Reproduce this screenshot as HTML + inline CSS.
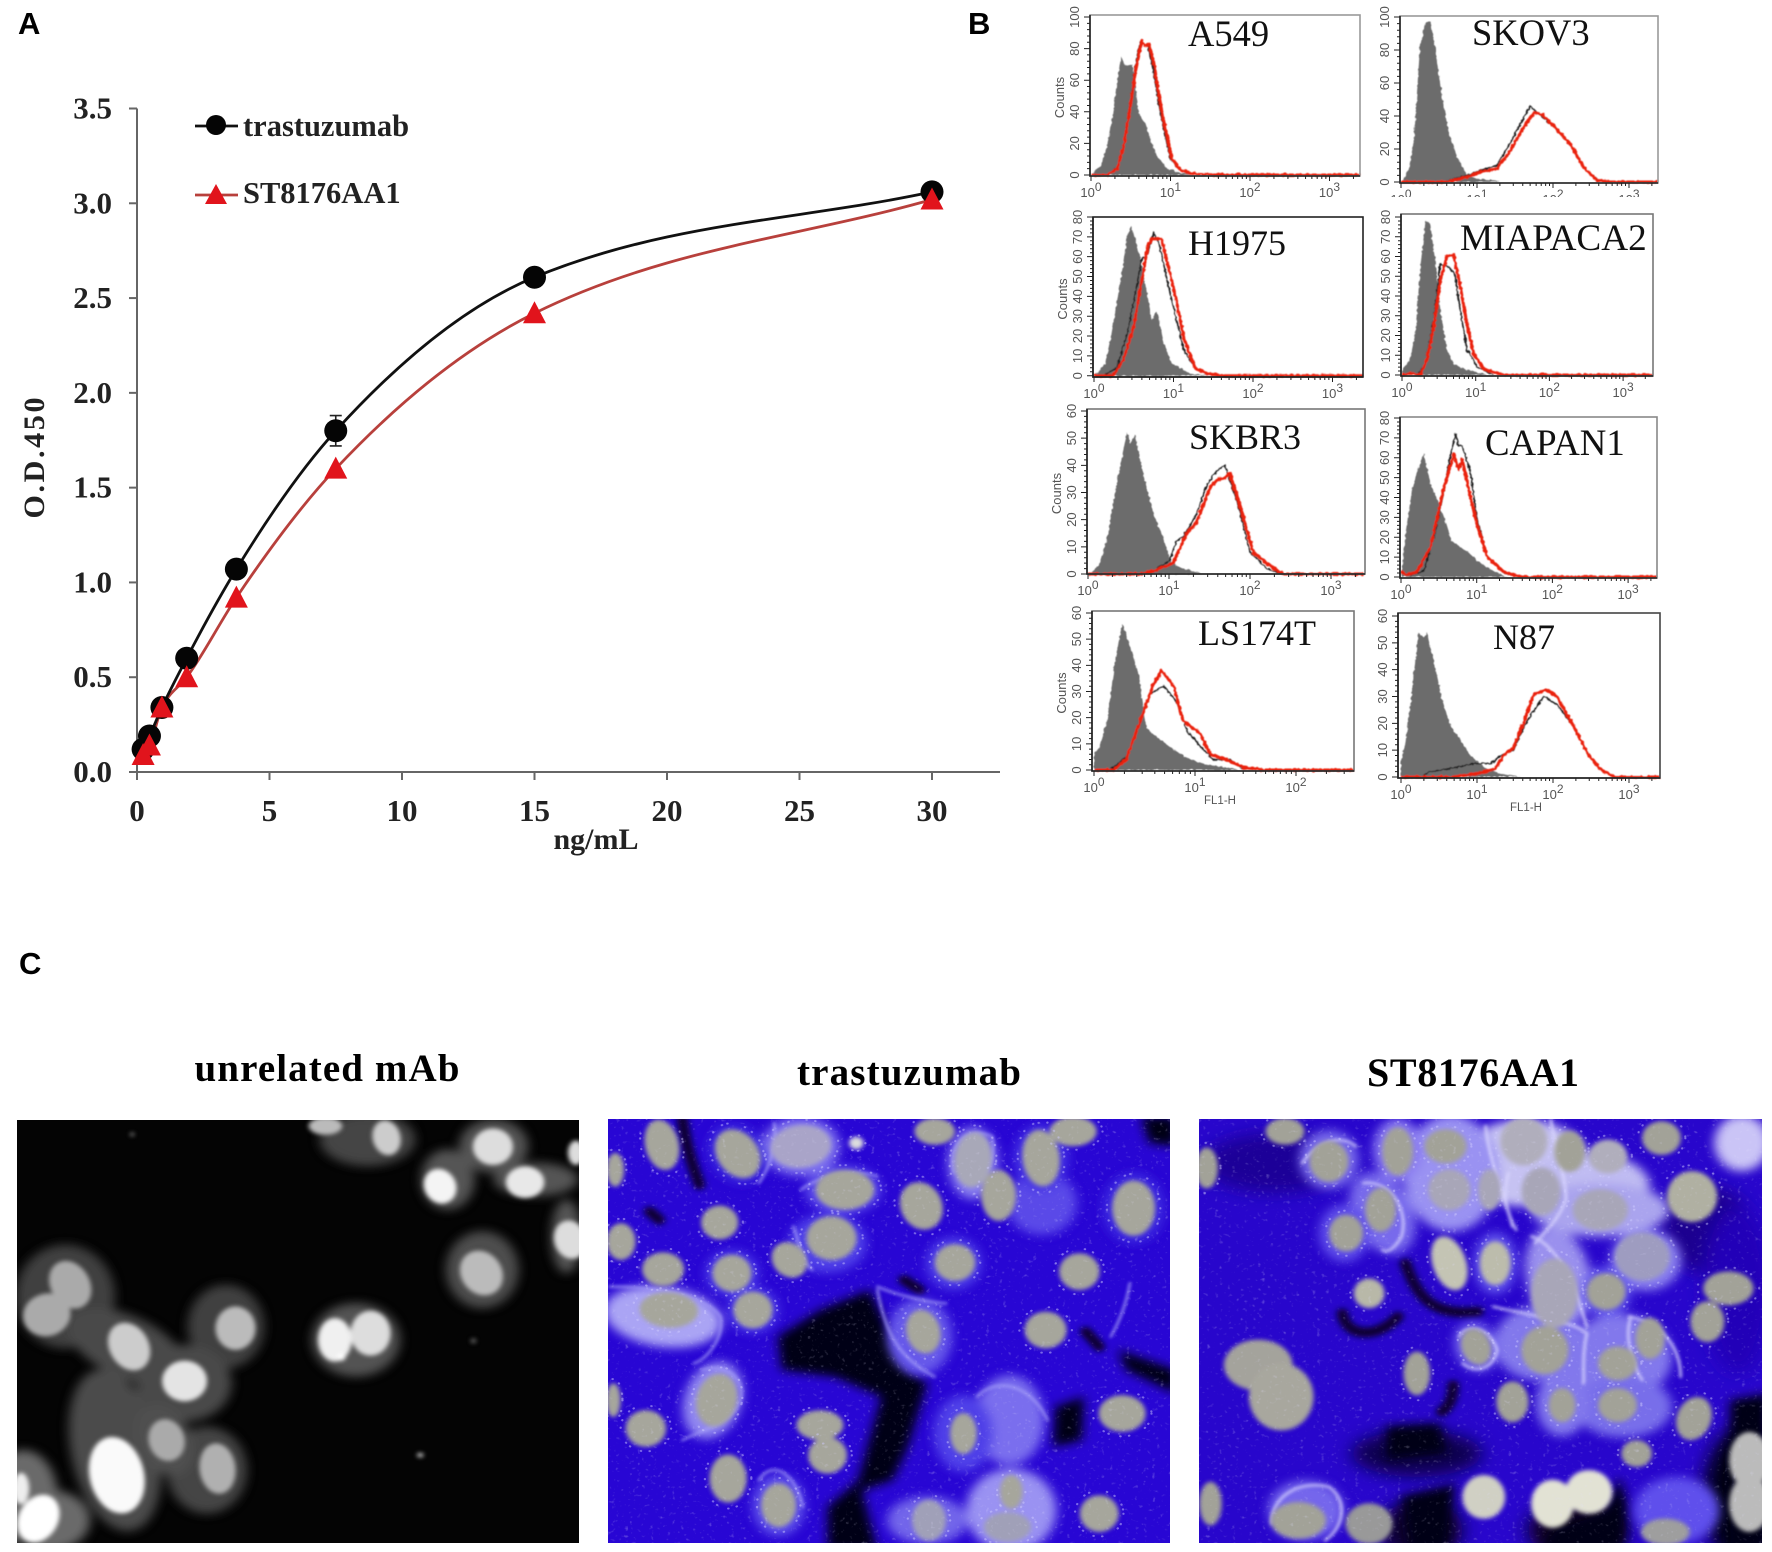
<!DOCTYPE html>
<html lang="en">
<head>
<meta charset="utf-8">
<title>ELISA, flow cytometry and immunofluorescence figure</title>
<style>
html,body{margin:0;padding:0;background:#fff}
svg{display:block}
.serif{font-family:"Liberation Serif",serif}
.sans{font-family:"Liberation Sans",sans-serif}
</style>
</head>
<body>
<svg id="fig" xmlns="http://www.w3.org/2000/svg" width="1772" height="1552" viewBox="0 0 1772 1552">
  <defs>
    <filter id="jag" x="-5%" y="-10%" width="110%" height="120%">
      <feTurbulence type="fractalNoise" baseFrequency="0.32" numOctaves="1" seed="4" result="n"/>
      <feDisplacementMap in="SourceGraphic" in2="n" scale="3.5" xChannelSelector="R" yChannelSelector="G"/>
      <feGaussianBlur stdDeviation="0.55"/>
    </filter>
    <filter id="blurS" x="-30%" y="-30%" width="160%" height="160%"><feGaussianBlur stdDeviation="4.5"/></filter>
    <filter id="blurT" x="-30%" y="-30%" width="160%" height="160%"><feGaussianBlur stdDeviation="9"/></filter>
    <filter id="blurN" x="-30%" y="-30%" width="160%" height="160%"><feGaussianBlur stdDeviation="6.5"/></filter>
    <filter id="blurM" x="-30%" y="-30%" width="160%" height="160%"><feGaussianBlur stdDeviation="14"/></filter>
    <filter id="blurB" x="-30%" y="-30%" width="160%" height="160%"><feGaussianBlur stdDeviation="24"/></filter>
    <filter id="speck" x="0" y="0" width="100%" height="100%">
      <feTurbulence type="fractalNoise" baseFrequency="0.09" numOctaves="2" seed="7"/>
      <feColorMatrix type="matrix" values="0 0 0 0 0.78  0 0 0 0 0.76  0 0 0 0 1  1.6 1.6 0 0 -1.86"/>
    </filter>
  </defs>
  <rect width="1772" height="1552" fill="#fff"/>

  <text x="18" y="34" class="sans" font-size="31" font-weight="700">A</text>
  <text x="968" y="34" class="sans" font-size="31" font-weight="700">B</text>
  <text x="19" y="974" class="sans" font-size="31" font-weight="700">C</text>

  <g id="chartA"></g>
  <g id="flow"></g>

  <text x="327" y="1081" class="serif" font-size="39" font-weight="700" text-anchor="middle" textLength="265">unrelated mAb</text>
  <text x="909" y="1085" class="serif" font-size="39" font-weight="700" text-anchor="middle" textLength="224">trastuzumab</text>
  <text x="1473" y="1086" class="serif" font-size="40" font-weight="700" text-anchor="middle" textLength="212">ST8176AA1</text>

  <svg id="photo1" x="17" y="1120" width="562" height="423" viewBox="44 272 1469 1266" preserveAspectRatio="none"></svg>
  <svg id="photo2" x="608" y="1119" width="562" height="424" viewBox="46 268 1469 1270" preserveAspectRatio="none"></svg>
  <svg id="photo3" x="1199" y="1119" width="563" height="424" viewBox="70 268 1473 1270" preserveAspectRatio="none"></svg>
</svg>

<script>
/* ---------- Chart A data ---------- */
const doses = [0.23, 0.47, 0.94, 1.875, 3.75, 7.5, 15, 30];
const trastuzumabOD = [0.12, 0.19, 0.34, 0.60, 1.07, 1.80, 2.61, 3.06];
const st8176OD = [0.09, 0.14, 0.34, 0.50, 0.92, 1.60, 2.42, 3.02];
const trastuzumabErr = [0.01, 0.01, 0.02, 0.02, 0.03, 0.08, 0.03, 0.03];
const xTickValues = [0, 5, 10, 15, 20, 25, 30];
const yTickValues = [0, 0.5, 1, 1.5, 2, 2.5, 3, 3.5];

/* ---------- Flow data: [log10 FL1, counts] ---------- */
const a549Grey = [[0,0],[0.12,6],[0.2,18],[0.27,37],[0.33,60],[0.38,75],[0.43,69],[0.52,70],[0.56,56],[0.6,39],[0.69,32],[0.75,22],[0.83,12],[0.96,4],[1.12,1],[1.55,0]];
const a549Black = [[0.2,0],[0.33,5],[0.41,20],[0.5,48],[0.56,70],[0.62,84],[0.71,82],[0.77,70],[0.83,52],[0.9,33],[1,10],[1.12,3],[1.25,1],[1.55,0]];
const a549Red = [[0,0],[0.2,0],[0.33,4],[0.41,18],[0.5,45],[0.56,66],[0.64,85],[0.68,82],[0.73,83],[0.79,71],[0.85,52],[0.92,33],[1.02,10],[1.13,3],[1.25,1],[1.55,0],[3.4,0]];
const h1975Grey = [[0.01,0],[0.14,6],[0.22,21],[0.33,47],[0.42,71],[0.47,76],[0.52,68],[0.58,60],[0.66,43],[0.73,28],[0.79,33],[0.87,18],[0.98,6],[1.08,4],[1.21,1],[1.5,0]];
const h1975Black = [[0.12,0],[0.29,4],[0.43,23],[0.54,46],[0.6,59],[0.66,60],[0.75,72],[0.83,65],[0.92,48],[1.04,28],[1.13,13],[1.27,4],[1.5,0]];
const h1975Red = [[0,0],[0.24,0],[0.37,8],[0.5,25],[0.58,43],[0.68,66],[0.73,69],[0.85,69],[0.94,54],[1.02,41],[1.13,19],[1.27,4],[1.42,1],[1.63,0],[3.4,0]];
const skov3Grey = [[0.01,0],[0.1,7],[0.17,25],[0.25,82],[0.32,97],[0.39,97],[0.45,80],[0.54,52],[0.63,29],[0.74,15],[0.87,4],[1,2],[1.24,1],[1.3,0]];
const skov3Black = [[0.55,0],[0.87,4],[1.04,7],[1.26,10],[1.42,22],[1.58,36],[1.7,46],[1.84,40],[2,34],[2.22,23],[2.4,9],[2.6,1],[2.8,0]];
const skov3Red = [[0,0],[0.6,0],[0.87,3],[1.04,6],[1.26,8],[1.44,19],[1.61,33],[1.75,42],[1.86,41],[2.01,34],[2.23,23],[2.4,9],[2.58,1],[2.75,0],[3.4,0]];
const miapacaGrey = [[0,2],[0.11,8],[0.18,21],[0.25,55],[0.32,78],[0.38,77],[0.45,58],[0.52,33],[0.61,13],[0.7,6],[0.84,3],[1.06,1],[1.15,0]];
const miapacaBlack = [[0.23,1],[0.32,6],[0.43,28],[0.52,56],[0.63,55],[0.72,51],[0.79,33],[0.88,13],[1.02,4],[1.24,0]];
const miapacaRed = [[0,0],[0.05,0],[0.11,1],[0.25,0],[0.34,8],[0.43,24],[0.52,48],[0.61,60],[0.7,61],[0.79,45],[0.88,26],[0.97,11],[1.11,3],[1.38,0],[3.4,0]];
const skbr3Grey = [[0.02,0],[0.15,4],[0.25,15],[0.35,33],[0.48,52],[0.52,48],[0.58,51],[0.68,37],[0.81,22],[0.93,13],[1.03,4],[1.18,2],[1.42,0]];
const skbr3Black = [[0.85,2],[1.01,5],[1.09,12],[1.18,14],[1.34,22],[1.47,33],[1.59,38],[1.69,40],[1.84,27],[2,8],[2.21,2],[2.4,0]];
const skbr3Red = [[0,0],[0.64,0],[0.81,1],[1.05,4],[1.22,15],[1.34,19],[1.51,32],[1.61,35],[1.67,35],[1.75,37],[1.88,25],[2.04,8],[2.25,3],[2.41,0],[3.4,0]];
const ls174tGrey = [[0,6],[0.06,9],[0.13,19],[0.21,42],[0.28,56],[0.34,49],[0.44,37],[0.52,16],[0.61,13],[0.75,9],[0.92,4.5],[1.12,2],[1.31,1],[1.45,0]];
const ls174tBlack = [[0.16,0],[0.32,5],[0.46,18],[0.55,29],[0.69,32],[0.82,26],[0.92,15],[1.08,8],[1.18,4],[1.35,4],[1.45,1],[1.6,0]];
const ls174tRed = [[0,0],[0.19,0],[0.32,4],[0.46,19],[0.59,33],[0.67,38],[0.79,32],[0.88,19],[1.05,14],[1.15,6],[1.31,4],[1.48,1],[1.68,0],[2.6,0]];
const capan1Grey = [[0.01,2],[0.06,22],[0.15,45],[0.23,55],[0.3,62],[0.39,47],[0.52,35],[0.59,28],[0.67,18],[0.87,13],[1.05,7],[1.27,2],[1.4,0]];
const capan1Black = [[0.12,1],[0.3,3],[0.45,22],[0.56,42],[0.65,61],[0.72,72],[0.76,66],[0.81,66],[0.92,52],[1,30],[1.14,10],[1.36,2],[1.55,0]];
const capan1Red = [[0,3],[0.06,1],[0.21,2.5],[0.39,15],[0.56,44],[0.7,62],[0.76,54],[0.81,59],[0.89,45],[1,27],[1.14,10],[1.36,2.5],[1.58,0],[3.4,0]];
const n87Grey = [[0,6],[0.06,13],[0.14,31],[0.23,54],[0.3,52],[0.34,54],[0.45,41],[0.54,29],[0.65,19],[0.78,14],[0.91,8],[1.13,3],[1.35,1],[1.57,0]];
const n87Black = [[0.25,0],[0.39,2],[0.61,3],[0.96,5],[1.18,5],[1.31,8],[1.48,10],[1.66,21],[1.88,30],[2.05,27],[2.27,19],[2.45,9.5],[2.62,3],[2.8,0]];
const n87Red = [[0,0],[0.69,0],[1.04,1.5],[1.24,3],[1.35,8],[1.48,11],[1.61,20],[1.75,31],[1.92,32.5],[2.05,30],[2.27,19],[2.45,9],[2.62,3],[2.8,0],[3.4,0]];

const NS = 'http://www.w3.org/2000/svg';
function mk(parent, tag, attrs, txt) {
  const e = document.createElementNS(NS, tag);
  for (const k in attrs) e.setAttribute(k, attrs[k]);
  if (txt !== undefined) e.textContent = txt;
  parent.appendChild(e);
  return e;
}

/* ---------- Chart A ---------- */
(function () {
  const g = document.getElementById('chartA');
  const X = v => 137 + v * (932 - 137) / 30;
  const Y = v => 772 - v * (772 - 108.5) / 3.5;
  const serif = '"Liberation Serif",serif';

  const yAxis = mk(g, 'line', {x1: X(0), x2: X(0), y1: Y(3.5), y2: Y(0), stroke: '#666', 'stroke-width': 2});
  
  
  const xAxis = mk(g, 'line', {x1: X(0), x2: 1000, y1: Y(0), y2: Y(0), stroke: '#666', 'stroke-width': 2});
  
  

  yTickValues.forEach(v => {
    const t = mk(g, 'line', {x1: X(0) - 8, x2: X(0), y1: Y(v), y2: Y(v), stroke: '#666', 'stroke-width': 2});
    
    
    const l = mk(g, 'text', {x: 112, y: Y(v) + 10, 'text-anchor': 'end', 'font-family': serif, 'font-size': 31, 'font-weight': 700, fill: '#222'}, v.toFixed(1));
    
    
  });
  xTickValues.forEach(v => {
    const t = mk(g, 'line', {x1: X(v), x2: X(v), y1: Y(0), y2: Y(0) + 8, stroke: '#666', 'stroke-width': 2});
    
    
    const l = mk(g, 'text', {x: X(v), y: 821, 'text-anchor': 'middle', 'font-family': serif, 'font-size': 31, 'font-weight': 700, fill: '#222'}, String(v));
    
    
  });
  const xTitle = mk(g, 'text', {x: 596, y: 849, 'text-anchor': 'middle', 'font-family': serif, 'font-size': 30, 'font-weight': 700, fill: '#222'}, 'ng/mL');
  
  
  const yTitle = mk(g, 'text', {x: 44, y: 458, 'text-anchor': 'middle', 'font-family': serif, 'font-size': 30, 'font-weight': 700, fill: '#222', textLength: 121, transform: 'rotate(-90 44 458)'}, 'O.D.450');
  
  

  function smoothPath(xs, ys) {
    const px = xs.map(X), py = ys.map(Y), n = px.length;
    const d = [], m = [];
    for (let i = 0; i < n - 1; i++) d.push((py[i + 1] - py[i]) / (px[i + 1] - px[i]));
    m[0] = d[0]; m[n - 1] = d[n - 2];
    for (let i = 1; i < n - 1; i++) {
      const a = px[i] - px[i - 1], b = px[i + 1] - px[i];
      m[i] = d[i - 1] * d[i] <= 0 ? 0 : (a + b) * d[i - 1] * d[i] / (a * d[i - 1] + b * d[i]);
    }
    let s = 'M' + px[0] + ' ' + py[0];
    for (let i = 0; i < n - 1; i++) {
      const h = (px[i + 1] - px[i]) / 3;
      s += ' C' + (px[i] + h) + ' ' + (py[i] + m[i] * h) + ' ' + (px[i + 1] - h) + ' ' + (py[i + 1] - m[i + 1] * h) + ' ' + px[i + 1] + ' ' + py[i + 1];
    }
    return s;
  }

  const lineR = mk(g, 'path', {d: smoothPath(doses, st8176OD), fill: 'none', stroke: '#b8403c', 'stroke-width': 2.8});
  
  
  const lineB = mk(g, 'path', {d: smoothPath(doses, trastuzumabOD), fill: 'none', stroke: '#111', 'stroke-width': 2.8});
  
  

  doses.forEach((x, i) => {
    const v = trastuzumabOD[i], er = trastuzumabErr[i];
    const eb = mk(g, 'path', {d: 'M' + (X(x) - 6) + ' ' + Y(v + er) + 'h12M' + X(x) + ' ' + Y(v + er) + 'V' + Y(v - er) + 'M' + (X(x) - 6) + ' ' + Y(v - er) + 'h12', stroke: '#222', 'stroke-width': 1.6, fill: 'none'});
    
    
    const c = mk(g, 'circle', {cx: X(x), cy: Y(v), r: 11.5, fill: '#050505'});
    
    
  });
  doses.forEach((x, i) => {
    const px = X(x), py = Y(st8176OD[i]);
    const t = mk(g, 'polygon', {points: (px - 11.5) + ',' + (py + 10) + ' ' + (px + 11.5) + ',' + (py + 10) + ' ' + px + ',' + (py - 12), fill: '#e1141c'});
    
    
  });

  const leg1 = mk(g, 'line', {x1: 195, x2: 238, y1: 126, y2: 126, stroke: '#111', 'stroke-width': 2.8});
  
  
  const legC = mk(g, 'circle', {cx: 216, cy: 125, r: 10, fill: '#050505'});
  
  
  const legT1 = mk(g, 'text', {x: 243, y: 136, 'font-family': serif, 'font-size': 30.5, 'font-weight': 700, fill: '#222'}, 'trastuzumab');
  
  
  const leg2 = mk(g, 'line', {x1: 195, x2: 238, y1: 195, y2: 195, stroke: '#b8403c', 'stroke-width': 2.8});
  
  
  const legTr = mk(g, 'polygon', {points: '205,204 227,204 216,184', fill: '#e1141c'});
  
  
  const legT2 = mk(g, 'text', {x: 243, y: 203, 'font-family': serif, 'font-size': 30.5, 'font-weight': 700, fill: '#222'}, 'ST8176AA1');
  
  
})();

/* ---------- Flow panels ---------- */
const flowPanels = [
  {id:'a549', label:'A549', size:36.5, grey:a549Grey, black:a549Black, red:a549Red, lx:1188, ly:46, L:1090, R:1360, T:15, B:176, zero:175, top:17, yMax:100, yStep:20, x0:1091, dec:79.5, n:4, counts:true, fl:false, cut:0, frame:'#999'},
  {id:'h1975', label:'H1975', size:36, grey:h1975Grey, black:h1975Black, red:h1975Red, lx:1188, ly:255, L:1093, R:1363, T:217, B:377, zero:375.7, top:217, yMax:80, yStep:10, x0:1094, dec:79.5, n:4, counts:true, fl:false, cut:0, frame:'#222'},
  {id:'skov3', label:'SKOV3', size:36.5, grey:skov3Grey, black:skov3Black, red:skov3Red, lx:1472, ly:45, L:1400, R:1658, T:16, B:183, zero:182, top:17, yMax:100, yStep:20, x0:1401, dec:76, n:4, counts:false, fl:false, cut:197, frame:'#999'},
  {id:'miapaca2', label:'MIAPACA2', size:37.2, grey:miapacaGrey, black:miapacaBlack, red:miapacaRed, lx:1460, ly:250, L:1401, R:1653, T:214, B:376, zero:375, top:217, yMax:80, yStep:10, x0:1402, dec:73.7, n:4, counts:false, fl:false, cut:0, frame:'#777'},
  {id:'skbr3', label:'SKBR3', size:36, grey:skbr3Grey, black:skbr3Black, red:skbr3Red, lx:1189, ly:449, L:1087, R:1365, T:409, B:574, zero:574, top:411, yMax:60, yStep:10, x0:1088, dec:81, n:4, counts:true, fl:false, cut:0, frame:'#777'},
  {id:'ls174t', label:'LS174T', size:36, grey:ls174tGrey, black:ls174tBlack, red:ls174tRed, lx:1198, ly:645, L:1092, R:1354, T:611, B:771, zero:770, top:613, yMax:60, yStep:10, x0:1094, dec:101, n:3, counts:true, fl:true, cut:0, frame:'#777'},
  {id:'capan1', label:'CAPAN1', size:36.8, grey:capan1Grey, black:capan1Black, red:capan1Red, lx:1485, ly:455, L:1400, R:1657, T:417, B:578, zero:577, top:418, yMax:80, yStep:10, x0:1401, dec:75.7, n:4, counts:false, fl:false, cut:0, frame:'#888'},
  {id:'n87', label:'N87', size:36, grey:n87Grey, black:n87Black, red:n87Red, lx:1493, ly:649, L:1398, R:1660, T:613, B:778, zero:777, top:616, yMax:60, yStep:10, x0:1401, dec:76, n:4, counts:false, fl:true, cut:0, frame:'#444'}
];

(function () {
  const root = document.getElementById('flow');
  const sans = '"Liberation Sans",sans-serif';
  const serif = '"Liberation Serif",serif';
  const tickGrey = '#555';
  flowPanels.forEach(p => {
    const g = mk(root, 'g', {});
    
    
    const fx = v => p.x0 + v * p.dec;
    const fy = v => p.zero - v * (p.zero - p.top) / p.yMax;
    const ptsOf = a => a.map(d => Math.min(fx(d[0]), p.R) + ',' + fy(d[1])).join(' ');

    const plot = mk(g, 'g', {filter: 'url(#jag)'});
    
    
    const first = p.grey[0], last = p.grey[p.grey.length - 1];
    const gr = mk(plot, 'polygon', {points: fx(first[0]) + ',' + fy(0) + ' ' + ptsOf(p.grey) + ' ' + fx(last[0]) + ',' + fy(0), fill: '#6c6c6c'});
    
    
    const bl = mk(plot, 'polyline', {points: ptsOf(p.black), fill: 'none', stroke: '#1c1c1c', 'stroke-width': 1.5});
    
    
    const rd = mk(plot, 'polyline', {points: ptsOf(p.red), fill: 'none', stroke: '#ea2410', 'stroke-width': 3, 'stroke-linejoin': 'round'});
    
    

    const fr = mk(g, 'rect', {x: p.L, y: p.T, width: p.R - p.L, height: p.B - p.T, fill: 'none', stroke: p.frame, 'stroke-width': 1.6});
    
    
    const la = mk(g, 'path', {d: 'M' + p.L + ' ' + p.T + 'V' + p.B + 'H' + p.R, fill: 'none', stroke: '#222', 'stroke-width': 1.6});
    
    

    let tk = '';
    for (let v = 0; v <= p.yMax + 0.01; v += p.yStep / 5) {
      const major = Math.abs(v / p.yStep - Math.round(v / p.yStep)) < 0.01;
      tk += 'M' + (p.L - (major ? 6 : 3)) + ' ' + fy(v) + 'H' + p.L;
    }
    for (let d = 0; d < p.n; d++) {
      tk += 'M' + fx(d) + ' ' + p.B + 'v5';
      for (let m = 2; m <= 9; m++) {
        const px = fx(d + Math.log10(m));
        if (px < p.R) tk += 'M' + px + ' ' + p.B + 'v3';
      }
    }
    const ticks = mk(g, 'path', {d: tk, stroke: '#222', 'stroke-width': 1, fill: 'none'});
    
    

    for (let v = 0; v <= p.yMax; v += p.yStep) {
      const lx = p.L - 11, ly = fy(v);
      const t = mk(g, 'text', {x: lx, y: ly, 'text-anchor': 'middle', 'font-family': sans, 'font-size': 13, fill: tickGrey, transform: 'rotate(-90 ' + lx + ' ' + ly + ')'}, String(v));
      
      
    }
    const holder = mk(g, 'g', {});
    
    
    for (let d = 0; d < p.n; d++) {
      const t = mk(holder, 'text', {x: fx(d), y: p.B + 21, 'text-anchor': 'middle', 'font-family': sans, 'font-size': 13, fill: tickGrey});
      
      
      mk(t, 'tspan', {}, '10');
      mk(t, 'tspan', {dy: -6, 'font-size': 12}, String(d));
    }
    if (p.cut) {
      const mask = mk(g, 'rect', {x: p.L - 20, y: p.cut, width: p.R - p.L + 40, height: 12, fill: '#fff'});
      
      
    }
    if (p.counts) {
      const cx = p.L - 26, cy = (p.T + p.B) / 2 + 2;
      const c = mk(g, 'text', {x: cx, y: cy, 'text-anchor': 'middle', 'font-family': sans, 'font-size': 13, fill: tickGrey, transform: 'rotate(-90 ' + cx + ' ' + cy + ')'}, 'Counts');
      
      
    }
    if (p.fl) {
      const f = mk(g, 'text', {x: (p.L + p.R) / 2 - 3, y: p.B + 33, 'text-anchor': 'middle', 'font-family': sans, 'font-size': 11.5, fill: '#555'}, 'FL1-H');
      
      
    }
    const name = mk(g, 'text', {x: p.lx, y: p.ly, 'font-family': serif, 'font-size': p.size, fill: '#111'}, p.label);
    
    
  });
})();

/* ---------- Micrographs (painted from ellipses and strokes) ---------- */
function paint(svgId, layerName, filterId, list, fallback, scale) {
  const s = scale || 1;
  const g = mk(document.getElementById(svgId), 'g', {filter: 'url(#' + filterId + ')'});
  
  
  list.forEach(c => {
    mk(g, 'ellipse', {cx: c[0], cy: c[1], rx: c[2] * s, ry: c[3] * s, fill: c[5] || fallback, transform: 'rotate(' + (c[4] || 0) + ' ' + c[0] + ' ' + c[1] + ')'});
  });
  return g;
}
function backdrop(svgId, color, name) {
  const r = mk(document.getElementById(svgId), 'rect', {x: 0, y: 0, width: 1600, height: 1600, fill: color});
  
  
}
function darkShapes(svgId, polys, curves) {
  const g = mk(document.getElementById(svgId), 'g', {filter: 'url(#blurM)'});
  
  
  polys.forEach(p => mk(g, 'polygon', {points: p, fill: '#040218'}));
  const t = mk(document.getElementById(svgId), 'g', {filter: 'url(#blurT)'});
  
  
  curves.forEach(d => mk(t, 'path', {d: d, fill: 'none', stroke: '#080330', 'stroke-width': 30, 'stroke-linecap': 'round'}));
}
function rims(svgId, paths, color, width) {
  const g = mk(document.getElementById(svgId), 'g', {filter: 'url(#blurS)', opacity: 0.8});
  
  
  paths.forEach(d => mk(g, 'path', {d: d, fill: 'none', stroke: color, 'stroke-width': width, 'stroke-linecap': 'round'}));
}
function granules(svgId, list, factor) {
  const g = mk(document.getElementById(svgId), 'g', {opacity: 0.5, filter: 'url(#blurGran)'});
  
  
  list.forEach(c => {
    mk(g, 'ellipse', {cx: c[0], cy: c[1], rx: c[2] * factor, ry: c[3] * factor, fill: 'none', stroke: '#cfcbff', 'stroke-width': 6, 'stroke-linecap': 'round', 'stroke-dasharray': '1 31 1 14 1 47 1 22', transform: 'rotate(' + (c[4] || 0) + ' ' + c[0] + ' ' + c[1] + ')'});
  });
}
function speckle(svgId) {
  const r = mk(document.getElementById(svgId), 'rect', {x: 0, y: 0, width: 1600, height: 1600, filter: 'url(#speck)', opacity: 0.4});
  
  
}
(function () {
  const f = mk(document.querySelector('#fig defs'), 'filter', {id: 'blurGran', x: '-20%', y: '-20%', width: '140%', height: '140%'});
  mk(f, 'feGaussianBlur', {stdDeviation: 1});
})();

/* Panel 1 */
backdrop('photo1', '#040404', 'photo-background');
paint('photo1', 'cell-bodies', 'blurM', [
  [170,800,130,155,0,'#3f3f3f'],[330,950,170,90,30,'#484848'],[590,890,100,125,0,'#414141'],[480,1060,125,115,0,'#4a4a4a'],
  [300,1260,115,245,-10,'#4c4c4c'],[540,1320,105,130,0,'#444'],[430,1230,70,110,-20,'#505050'],[60,1400,90,140,0,'#6a6a6a'],
  [130,1470,105,90,0,'#6a6a6a'],[930,930,115,110,0,'#525252'],[1260,720,95,115,0,'#4e4e4e'],[1170,450,70,90,0,'#555'],
  [1290,350,90,80,0,'#555'],[1400,450,110,50,0,'#555'],[1480,620,40,110,0,'#555'],[960,330,125,80,0,'#444']
]);
paint('photo1', 'nuclei', 'blurN', [
  [183,765,50,70,-20,'#aaa'],[122,855,58,62,30,'#aaa'],[337,950,50,70,-20,'#ccc'],[615,895,50,62,0,'#bbb'],[482,1053,56,58,0,'#e4e4e4'],
  [435,1230,45,60,-10,'#aaa'],[568,1315,45,72,-5,'#b0b0b0'],[305,1335,68,110,-10,'#fafafa'],[100,1465,50,70,20,'#fff'],
  [875,930,42,62,0,'#f0f0f0'],[968,910,50,64,0,'#ddd'],[892,982,10,10,0,'#fff'],[1258,730,52,65,-20,'#bbb'],[1150,470,40,50,-15,'#f4f4f4'],
  [1288,352,50,52,0,'#ddd'],[1372,458,48,45,0,'#e8e8e8'],[1010,325,35,50,-10,'#ccc'],[850,290,42,25,0,'#bbb'],
  [1490,630,40,55,-10,'#ddd'],[1505,370,20,35,0,'#ddd'],[55,1375,20,45,0,'#eee'],
  [345,315,5,5,0,'#999'],[1098,1275,8,6,0,'#ddd'],[1237,933,7,7,0,'#666']
], undefined, 1.05);

/* Panel 2 */
const nuclei2 = [
  [187,345,42,72,-10],[385,372,52,72,-25],[550,350,75,60,-10,'#a9a4c8'],[65,420,22,48],[900,305,50,38],[1000,390,46,78,5,'#a8a8b8'],[1178,385,46,80,-5],[1262,305,58,42],
  [1067,497,43,72],[1420,535,53,78],[665,480,72,56],[865,528,52,68,-15],[338,578,46,48],[630,625,62,62],[520,690,42,52,-25],[953,698,50,52],[80,635,36,52],[190,718,52,48],
  [370,730,48,52],[425,840,48,52],[1278,725,50,52],[1190,900,52,52],[870,905,42,62,-10],[205,840,72,50,5],[330,1110,50,75,10],[145,1195,50,52],[600,1185,58,42],[620,1275,48,52],
  [975,1210,33,58],[1390,1150,58,52],[360,1345,46,68],[492,1425,43,62],[1330,1450,48,52],[1100,1385,28,48],[885,1470,42,58,0,'#a0a0b8'],[1090,1490,58,42,0,'#a0a0b8'],[60,1110,18,48],[695,340,18,18,0,'#ddd']
];
backdrop('photo2', '#2806d4', 'photo-background');
darkShapes('photo2', [
  '490,920 600,840 730,780 780,900 830,1020 880,1060 830,1250 790,1350 710,1380 750,1560 620,1560 620,1430 700,1350 760,1100 640,1040 500,1020',
  '1380,960 1530,1020 1530,1090 1400,1020','1215,1130 1290,1100 1285,1230 1210,1250','1440,260 1530,260 1530,350 1460,340'
], [
  'M240,268 C250,350 270,420 285,465','M155,545 L180,570','M820,750 L860,780','M1295,905 L1330,950'
]);
paint('photo2', 'bright-cell-bodies', 'blurM', [
  [190,860,155,90,10,'#aaa4f4'],[320,1110,75,118,15,'#9288f0'],[1095,1170,92,135,0,'#7a6eee'],[1100,1440,118,125,0,'#9a92f2'],[880,1470,105,72,0,'#7265ea'],
  [1000,400,65,108,0,'#8a80ee'],[550,350,102,88,0,'#8276ee'],[660,480,98,72,0,'#5f50ea'],[1180,520,92,95,0,'#5a4ae8'],[860,920,85,115,0,'#6658ea'],
  [370,730,68,68,0,'#5040e8'],[425,840,65,68,0,'#5040e8'],[950,700,72,78,0,'#5040e8'],[975,1210,78,115,0,'#5040e8'],[620,640,102,88,0,'#5040e8'],[492,1425,68,92,0,'#6052ea'],
  [1420,535,80,105,0,'#3e2ce0'],[1178,385,70,100,0,'#4634e4'],[385,372,72,92,-25,'#3e2ce0']
]);
rims('photo2', [
  'M240,1230 C290,1200 390,1170 395,1090 C395,1030 340,1000 290,1020','M950,430 C930,340 990,290 1050,320 C1060,380 1040,420 1020,450','M750,770 C790,790 880,820 930,820',
  'M50,770 C150,770 300,790 340,860 C350,930 300,990 270,1000','M1010,1100 C1060,1040 1150,1060 1195,1170','M440,1350 C480,1280 540,1340 555,1430','M750,780 C770,900 800,980 900,1040',
  'M480,280 C490,340 470,410 440,460','M550,480 C610,430 700,420 750,440','M530,590 C550,640 540,680 580,720','M1410,760 C1400,830 1380,880 1360,920'
], '#aca6fa', 7);
paint('photo2', 'nuclei', 'blurN', nuclei2, '#a6a69c', 1.06);
granules('photo2', nuclei2, 1.32);
speckle('photo2');

/* Panel 3 */
const nuclei3 = [
  [295,305,48,38],[90,415,28,58],[410,395,48,58],[590,365,38,68],[715,350,52,48],[920,335,58,68,0,'#b0aebc'],[1040,365,38,58],[1140,380,48,48,0,'#b0aebc'],[1280,325,48,48],
  [545,540,38,62],[455,610,42,52],[725,480,52,58,0,'#a8a6b8'],[830,480,28,58,0,'#a8a6b8'],[965,485,48,68,0,'#a8a6b8'],[1120,540,68,58,0,'#a8a6b8'],[1360,500,62,72,0,'#b0b0a2'],
  [725,700,42,78,-15,'#c4c4b4'],[845,700,38,62,0,'#bcbcac'],[515,790,38,42,0,'#b8b8a8'],[1230,680,68,68,0,'#9e9cc0'],[1000,790,58,98,0,'#a8a6b8'],[1135,785,48,52],[1455,775,62,48],
  [1400,875,42,58],[795,950,36,52,-15],[975,960,58,68],[1250,925,36,58],[1165,1000,48,48],[640,1030,33,62],[1165,1125,48,48],[890,1115,40,58],[1020,1125,33,48],[1365,1165,43,62,15],[1215,1270,38,38],
  [225,1005,85,72,0,'#a4a39c'],[285,1100,80,95,0,'#a8a79e'],[100,1420,28,62],[330,1470,68,52],[515,1480,58,58,0,'#999'],[815,1400,53,62,0,'#d0d0c4'],[995,1420,53,68,0,'#e2e2d4'],[1090,1385,58,62,0,'#e2e2d4'],
  [1510,1290,50,80,0,'#bbb'],[1510,1420,50,80,0,'#bbb'],[1290,1505,60,38,0,'#9e9e9e']
];
backdrop('photo3', '#2806cc', 'photo-background');
paint('photo3', 'dim-regions', 'blurB', [
  [270,400,190,90,0,'#1c0498'],[1400,600,120,130,0,'#1a0490'],[1480,780,90,250,0,'#2306b8'],[640,1270,170,70,0,'#0c0250'],[1480,1400,90,200,0,'#060318'],[1060,1500,130,90,0,'#070420'],[650,1500,110,90,0,'#0a0330']
]);
darkShapes('photo3', [
  '960,1560 1000,1490 1130,1440 1170,1340 1190,1420 1180,1560','1460,1110 1560,1090 1560,1560 1450,1560','600,1400 740,1360 720,1560 620,1560','560,1190 700,1180 720,1270 560,1290'
], [
  'M445,850 C455,925 540,925 590,860','M610,700 C640,800 680,860 800,845','M735,1065 C735,1100 725,1130 705,1145'
]);
paint('photo3', 'bright-cell-bodies', 'blurM', [
  [920,400,170,130,0,'#c6c2f2'],[1090,470,160,100,0,'#c0bcf2'],[730,430,125,175,0,'#9a92f2'],[1120,540,180,80,0,'#aaa4ee'],[1240,690,92,92,0,'#8a80ee'],[1010,740,84,150,-10,'#9a90ee'],[960,940,118,112,0,'#8278ec'],
  [1170,980,138,128,0,'#8278ec'],[1180,1130,128,92,0,'#786eea'],[1020,1120,68,98,0,'#8278ec'],[550,550,80,128,-20,'#786aec'],[410,390,78,88,0,'#786aec'],[590,360,64,94,0,'#8a7cf0'],
  [350,1440,100,90,0,'#7466ec'],[1490,340,72,84,0,'#cac4f6'],[795,950,56,76,-15,'#7466ec'],[845,700,56,92,0,'#6254ec'],[1135,785,66,76,0,'#6254ec'],[1320,1440,112,100,0,'#5e50ec'],[450,610,66,86,0,'#5e4eea']
]);
rims('photo3', [
  'M820,290 C830,400 870,500 890,590','M880,430 C860,500 880,560 900,600','M990,270 C1000,340 1030,440 1030,510 C1010,570 980,600 950,640','M940,620 C1020,650 1060,800 1085,890',
  'M840,830 C950,860 1040,870 1085,910 C1070,980 1080,1060 1075,1060','M1195,860 C1280,880 1330,950 1330,1040','M1200,860 C1180,930 1210,1020 1230,1050',
  'M260,1480 C260,1390 340,1350 410,1370 C460,1410 450,1490 400,1530','M750,920 C770,880 830,890 850,960 C840,1020 790,1030 760,1000','M500,460 C570,450 620,540 600,620 C580,660 560,670 550,660','M340,400 C380,340 440,310 480,350'
], '#dcd8ff', 8);
paint('photo3', 'nuclei', 'blurN', nuclei3, '#a2a298', 1.06);
granules('photo3', nuclei3.slice(0, 34), 1.3);
speckle('photo3');
</script>
</body>
</html>
